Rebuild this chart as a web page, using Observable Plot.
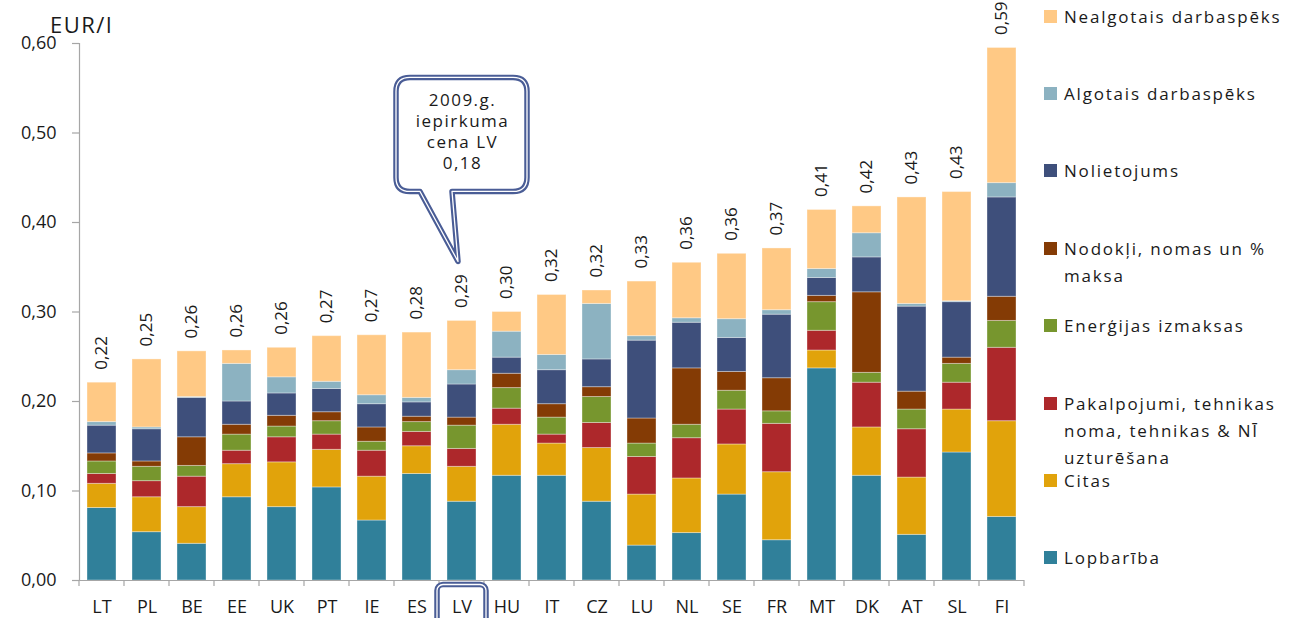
<!DOCTYPE html>
<html><head><meta charset="utf-8">
<script src="https://cdn.jsdelivr.net/npm/d3@7"></script>
<script src="https://cdn.jsdelivr.net/npm/@observablehq/plot@0.6"></script>
<style>
body{margin:0;background:#fff;font-family:"Open Sans",sans-serif;color:#1a1a1a;}
#wrap{position:relative;width:1299px;height:618px;overflow:hidden;}
#title{position:absolute;left:50px;top:13px;font-size:22px;line-height:22px;letter-spacing:1.5px;}
.leg{position:absolute;left:1044px;font-size:17px;line-height:27px;letter-spacing:1.8px;white-space:pre;}
.leg i{position:absolute;left:0;top:7px;width:13px;height:13px;}
.leg span{position:absolute;left:20px;top:0;}
</style></head><body>
<div id="wrap"><div id="chart"></div><div id="title">EUR/l</div><div id="legend"></div></div>
<script>
const countries = ["LT","PL","BE","EE","UK","PT","IE","ES","LV","HU","IT","CZ","LU","NL","SE","FR","MT","DK","AT","SL","FI"];
const lopbariba   = [0.081,0.054,0.041,0.093,0.082,0.104,0.067,0.119,0.088,0.117,0.117,0.088,0.039,0.053,0.096,0.045,0.237,0.117,0.051,0.143,0.071];
const citas       = [0.027,0.039,0.041,0.037,0.050,0.042,0.049,0.031,0.039,0.057,0.036,0.060,0.057,0.061,0.056,0.076,0.020,0.054,0.064,0.048,0.107];
const pakalpojumi = [0.011,0.018,0.034,0.015,0.028,0.017,0.029,0.016,0.020,0.018,0.010,0.028,0.042,0.045,0.039,0.054,0.022,0.050,0.054,0.030,0.082];
const energija    = [0.014,0.016,0.012,0.018,0.012,0.015,0.010,0.011,0.026,0.023,0.019,0.029,0.015,0.015,0.021,0.014,0.032,0.011,0.022,0.021,0.030];
const nodokli     = [0.009,0.006,0.032,0.011,0.012,0.010,0.016,0.006,0.009,0.016,0.015,0.011,0.028,0.063,0.021,0.037,0.007,0.090,0.020,0.007,0.027];
const nolietojums = [0.031,0.036,0.044,0.026,0.025,0.026,0.026,0.016,0.037,0.018,0.038,0.031,0.087,0.051,0.038,0.071,0.020,0.039,0.095,0.062,0.111];
const algotais    = [0.004,0.002,0.001,0.042,0.018,0.008,0.010,0.005,0.016,0.029,0.017,0.062,0.005,0.005,0.021,0.005,0.010,0.027,0.003,0.001,0.016];
const nealgotais  = [0.044,0.076,0.051,0.015,0.033,0.051,0.067,0.073,0.055,0.022,0.067,0.015,0.061,0.062,0.073,0.069,0.066,0.030,0.119,0.122,0.151];
const totalLabels = ["0,22","0,25","0,26","0,26","0,26","0,27","0,27","0,28","0,29","0,30","0,32","0,32","0,33","0,36","0,36","0,37","0,41","0,42","0,43","0,43","0,59"];

const seriesNames = ["Lopbarība","Citas","Pakalpojumi, tehnikas noma, tehnikas & NĪ uzturēšana","Enerģijas izmaksas","Nodokļi, nomas un % maksa","Nolietojums","Algotais darbaspēks","Nealgotais darbaspēks"];
const seriesValues = [lopbariba, citas, pakalpojumi, energija, nodokli, nolietojums, algotais, nealgotais];
const seriesColors = ["#30809A","#E1A30B","#AD282B","#77962E","#843B05","#3E4F7B","#8CB2C1","#FFC985"];
const legendText = ["Lopbarība","Citas","Pakalpojumi, tehnikas\nnoma, tehnikas & NĪ\nuzturēšana","Enerģijas izmaksas","Nodokļi, nomas un %\nmaksa","Nolietojums","Algotais darbaspēks","Nealgotais darbaspēks"];
const yTicks = [0,0.1,0.2,0.3,0.4,0.5,0.6];
const calloutCountry = "LV";
const calloutLines = ["2009.g.","iepirkuma","cena LV","0,18"];

const rows = [];
countries.forEach((c,i)=>seriesNames.forEach((s,j)=>rows.push({country:c, series:s, value:seriesValues[j][i]})));
const totals = countries.map((c,i)=>d3.sum(seriesValues, v=>v[i]));
const fmt = d => d3.format(".2f")(d).replace(".", ",");
const navy = "#4A5D96";

function bandInfo(scales, dims){
  const n = countries.length;
  const step = (dims.width - dims.marginLeft - dims.marginRight)/n;
  const bw = scales.x.bandwidth ? scales.x.bandwidth() : step*0.65;
  return {step, bw};
}

function boundaryTicks(index, scales, values, dims){
  const {step, bw} = bandInfo(scales, dims);
  const y0 = scales.y(0);
  const g = d3.create("svg:g").attr("stroke","#a6a6a6").attr("stroke-width",1.2);
  const xs = countries.map(c=>scales.x(c)+bw/2-step/2);
  xs.push(xs[xs.length-1]+step);
  xs.forEach(x=>g.append("line").attr("x1",x).attr("x2",x).attr("y1",y0).attr("y2",y0+6));
  return g.node();
}

function callout(index, scales, values, dims){
  const {step, bw} = bandInfo(scales, dims);
  const i = countries.indexOf(calloutCountry);
  const cx = scales.x(calloutCountry)+bw/2;
  const labelTop = scales.y(totals[i]) - 13 - 44;
  const tipX = cx-3.5, tipY = labelTop - 2;
  const y1 = tipY - 70, y0 = y1 - 114;
  const x0 = cx-65.5, x1 = cx+65.5, r = 14, tl = cx-41.5, tr = cx-9.5;
  const p = `M${x0+r},${y0}H${x1-r}Q${x1},${y0} ${x1},${y0+r}V${y1-r}Q${x1},${y1} ${x1-r},${y1}H${tr}L${tipX},${tipY}L${tl},${y1}H${x0+r}Q${x0},${y1} ${x0},${y1-r}V${y0+r}Q${x0},${y0} ${x0+r},${y0}Z`;
  const g = d3.create("svg:g");
  g.append("path").attr("d",p).attr("fill","white").attr("stroke",navy).attr("stroke-width",5.5).attr("stroke-linejoin","round");
  g.append("path").attr("d",p).attr("fill","none").attr("stroke","white").attr("stroke-width",1.3).attr("stroke-linejoin","round");
  calloutLines.forEach((t,k)=>g.append("text").attr("x",cx+1).attr("y",y0+23+k*21).attr("dy","0.35em")
    .attr("text-anchor","middle").attr("font-size",17).attr("letter-spacing","1.5px").attr("fill","#1a1a1a").text(t));
  // box around axis label
  const bx = cx-24.5, by = scales.y(0)+4.5;
  g.append("rect").attr("x",bx).attr("y",by).attr("width",49).attr("height",44).attr("rx",6)
    .attr("fill","none").attr("stroke",navy).attr("stroke-width",5.5);
  g.append("rect").attr("x",bx).attr("y",by).attr("width",49).attr("height",44).attr("rx",6)
    .attr("fill","none").attr("stroke","white").attr("stroke-width",1.3);
  return g.node();
}

const chart = Plot.plot({
  width: 1299, height: 618,
  marginLeft: 79, marginRight: 275, marginTop: 43, marginBottom: 38,
  style: {fontFamily: "'Open Sans', sans-serif", fontSize: "17px", color: "#1a1a1a", background: "white", overflow: "visible"},
  x: {domain: countries, paddingInner: 0.35, paddingOuter: 0.175, label: null},
  y: {domain: [0, 0.6], label: null},
  color: {domain: seriesNames, range: seriesColors},
  marks: [
    Plot.barY(rows, {x: "country", y: "value", fill: "series", stroke: "white", strokeOpacity: 0.35, strokeWidth: 1}),
    Plot.ruleY([0], {stroke: "#a6a6a6", strokeWidth: 1.2}),
    Plot.frame({anchor: "left", stroke: "#a6a6a6", strokeWidth: 1.2}),
    Plot.axisY({ticks: yTicks, tickFormat: fmt, tickSize: 7, tickPadding: 16, fontSize: 18, stroke: "#a6a6a6", strokeWidth: 1.2, label: null, letterSpacing: "2.5px"}),
    Plot.axisX({tickSize: 0, tickPadding: 20, fontSize: 18, label: null, letterSpacing: "2px"}),
    boundaryTicks,
    Plot.text(countries, {x: d=>d, y: (d,i)=>totals[i], text: (d,i)=>totalLabels[i], rotate: -90, textAnchor: "start", dy: -13, fontSize: 17, letterSpacing: "2.5px", fill: "#1a1a1a"}),
    callout
  ]
});
document.getElementById("chart").appendChild(chart);

const legend = document.getElementById("legend");
// legend items listed top to bottom (reverse of stacking order)
const n = seriesNames.length;
for (let k = 0; k < n; k++) {
  const j = n - 1 - k;
  const div = document.createElement("div");
  div.className = "leg";
  div.style.top = (16 + k*77.4 - 13.5) + "px";
  const sw = document.createElement("i"); sw.style.background = seriesColors[j];
  const sp = document.createElement("span"); sp.textContent = legendText[j];
  div.appendChild(sw); div.appendChild(sp);
  legend.appendChild(div);
}
</script>
</body></html>
